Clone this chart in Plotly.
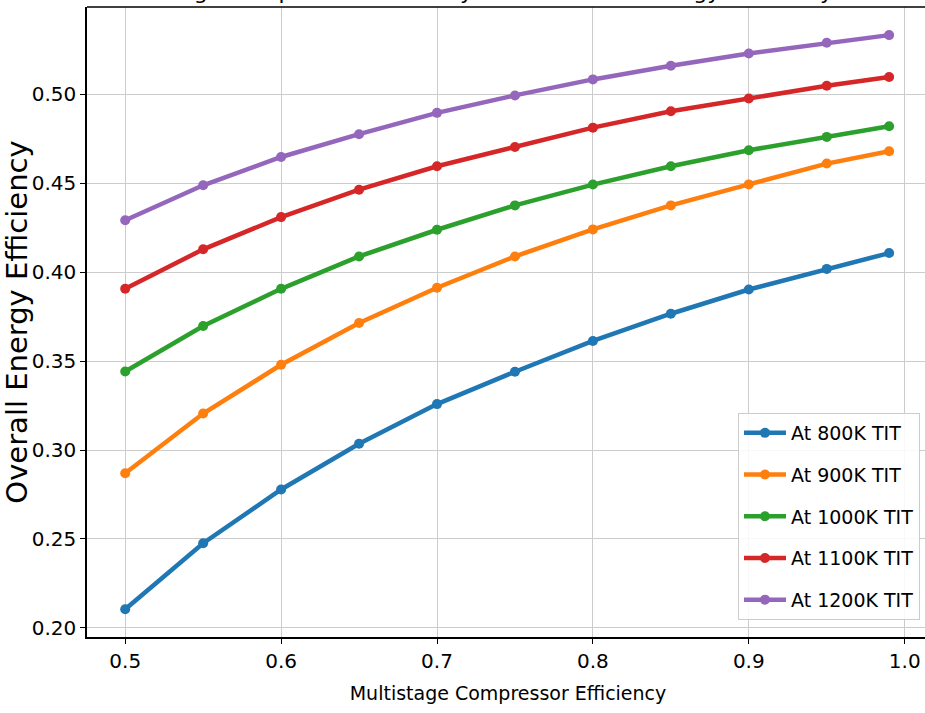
import plotly.graph_objects as go

compressor_eff = [0.5, 0.55, 0.6, 0.65, 0.7, 0.75, 0.8, 0.85, 0.9, 0.95, 0.99]
eff_800K = [0.2105, 0.2476, 0.2778, 0.3035, 0.3258, 0.3440, 0.3613, 0.3766, 0.3902, 0.4018, 0.4107]
eff_900K = [0.2869, 0.3205, 0.3479, 0.3714, 0.3912, 0.4088, 0.4240, 0.4375, 0.4493, 0.4610, 0.4679]
eff_1000K = [0.3441, 0.3697, 0.3906, 0.4088, 0.4238, 0.4375, 0.4492, 0.4595, 0.4685, 0.4760, 0.4820]
eff_1100K = [0.3906, 0.4128, 0.4309, 0.4463, 0.4595, 0.4703, 0.4812, 0.4904, 0.4976, 0.5047, 0.5097]
eff_1200K = [0.4291, 0.4488, 0.4647, 0.4775, 0.4895, 0.4993, 0.5083, 0.5160, 0.5229, 0.5289, 0.5332]

series_names = ["At 800K TIT", "At 900K TIT", "At 1000K TIT", "At 1100K TIT", "At 1200K TIT"]
series_values = [eff_800K, eff_900K, eff_1000K, eff_1100K, eff_1200K]
colors = ["#1f77b4", "#ff7f0e", "#2ca02c", "#d62728", "#9467bd"]

x_ticks = [0.5, 0.6, 0.7, 0.8, 0.9, 1.0]
y_ticks = [0.20, 0.25, 0.30, 0.35, 0.40, 0.45, 0.50]

title_text = "Effect of Multistage Compressor Efficiency on the Overall Energy Efficiency"

FONT = "DejaVu Sans, sans-serif"
W = 929
PLOT_W = W - 87

fig = go.Figure()
for i, (name, vals, col) in enumerate(zip(series_names, series_values, colors)):
    fig.add_trace(go.Scatter(
        x=compressor_eff, y=vals, name=name, mode="lines+markers",
        line=dict(color=col, width=4.5),
        marker=dict(color=col, size=10),
        legendgroup=f"g{i}",
    ))

fig.update_layout(
    width=W, height=713,
    margin=dict(l=87, r=0, t=7, b=76),
    paper_bgcolor="white", plot_bgcolor="white",
    font=dict(family=FONT, size=19, color="black"),
    showlegend=True,
    legend=dict(
        x=(920 - 87) / PLOT_W, xanchor="right", y=0.027, yanchor="bottom",
        bgcolor="rgba(255,255,255,0.85)", bordercolor="#cccccc", borderwidth=1,
        font=dict(family=FONT, size=19, color="black"),
        tracegroupgap=14, itemwidth=42,
    ),
    xaxis=dict(
        range=[0.4755, 0.4755 + PLOT_W / 1559], tickvals=x_ticks, ticktext=[f"{v:.1f}" for v in x_ticks],
        showgrid=True, gridcolor="#cccccc", gridwidth=1,
        showline=True, linecolor="black", linewidth=1.5, mirror=False,
        ticks="outside", ticklen=5, tickcolor="black",
        tickfont=dict(family=FONT, size=20),
        zeroline=False, automargin=False,
        title=dict(text="Multistage Compressor Efficiency", font=dict(family=FONT, size=19), standoff=15),
    ),
    yaxis=dict(
        range=[0.1949, 0.549], tickvals=y_ticks, ticktext=[f"{v:.2f}" for v in y_ticks],
        showgrid=True, gridcolor="#cccccc", gridwidth=1,
        showline=True, linecolor="black", linewidth=1.5, mirror=False,
        ticks="outside", ticklen=5, tickcolor="black",
        tickfont=dict(family=FONT, size=20),
        zeroline=False, automargin=False,
        title=dict(text="Overall Energy Efficiency", font=dict(family=FONT, size=29), standoff=7),
    ),
    shapes=[dict(
        type="line", xref="paper", yref="paper", x0=0, x1=1, y0=1, y1=1,
        line=dict(color="black", width=1.5), layer="above",
    )],
    annotations=[dict(
        text=title_text, xref="paper", yref="paper", x=(420 - 87) / PLOT_W, y=1 + 1 / 630,
        xanchor="center", yanchor="bottom", showarrow=False,
        font=dict(family=FONT, size=22, color="black"),
    )],
)

fig.write_html(
    "out.html",
    config={"displayModeBar": False},
    post_script=(
        "document.body.style.margin='0px';"
        "document.body.style.overflow='hidden';"
        "document.documentElement.style.overflow='hidden';"
    ),
)
